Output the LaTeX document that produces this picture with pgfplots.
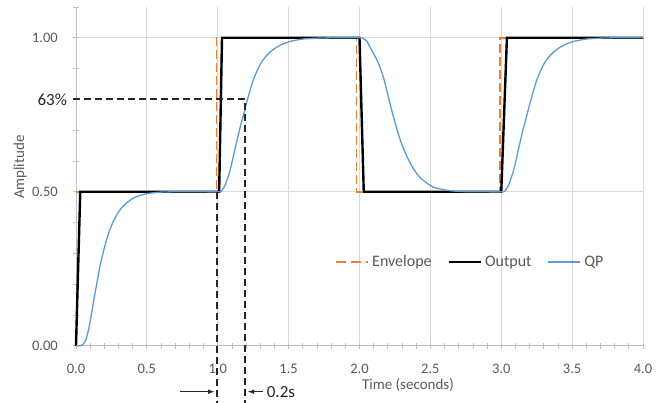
\documentclass[border=0pt]{standalone}
\usepackage{pgfplots}
\pgfplotsset{compat=1.18}
\usepackage{fontspec}
\setmainfont{Carlito}
\definecolor{envc}{HTML}{ED7D31}
\definecolor{qpc}{HTML}{5B9BD5}
\definecolor{gridc}{HTML}{D9D9D9}
\definecolor{axc}{HTML}{BFBFBF}
\definecolor{txt}{HTML}{595959}
\definecolor{ann}{HTML}{262626}
\begin{document}
\begin{tikzpicture}
\begin{axis}[
  name=ax,
  scale only axis, width=567pt, height=338.8pt,
  xmin=0, xmax=4, ymin=0, ymax=1.1,
  clip=false,
  axis x line*=bottom, axis y line*=left,
  axis line style={axc, line width=0.8pt},
  xtick={0,0.5,...,4}, minor x tick num=4,
  ytick={0,0.5,1}, minor ytick={0.1,0.2,0.3,0.4,0.6,0.7,0.8,0.9,1.1},
  tick align=center, major tick length=6pt, minor tick length=6pt,
  tick style={axc, line width=0.8pt},
  xmajorgrids, ymajorgrids, major grid style={gridc, line width=0.8pt},
  /pgf/number format/assume math mode=true,
  xticklabel style={font=\fontsize{14.5}{17}\selectfont, text=txt, anchor=north, inner sep=0pt, yshift=-15pt,
    /pgf/number format/fixed, /pgf/number format/fixed zerofill, /pgf/number format/precision=1},
  yticklabel style={font=\fontsize{14.5}{17}\selectfont, text=txt, anchor=east, inner sep=0pt, xshift=-15pt,
    /pgf/number format/fixed, /pgf/number format/fixed zerofill, /pgf/number format/precision=2},
  xlabel={Time (seconds)}, ylabel={Amplitude},
  every axis x label/.style={at={(axis cs:2.342,-0.127)}, anchor=center, inner sep=0pt, font=\fontsize{15}{18}\selectfont, text=txt},
  every axis y label/.style={at={(axis cs:-0.395,0.58)}, anchor=center, inner sep=0pt, rotate=90, font=\fontsize{15}{18}\selectfont, text=txt},
  legend columns=3,
  legend style={at={(axis cs:1.83,0.273)}, anchor=west, draw=none, fill=none, inner sep=0pt,
    font=\fontsize{16}{19}\selectfont,
    /tikz/every odd column/.append style={column sep=1pt},
    /tikz/every even column/.append style={column sep=14pt}},
  legend image code/.code={\draw[#1] (0pt,0pt) -- (32pt,0pt);},
]
\addlegendimage{color=envc, line width=1.6pt, dash pattern=on 10pt off 5pt}
\addlegendentry{\textcolor{txt}{Envelope}}
\addlegendimage{color=black, line width=2.4pt}
\addlegendentry{\textcolor{txt}{Output}}
\addlegendimage{color=qpc, line width=1.7pt}
\addlegendentry{\textcolor{txt}{QP}}
\addplot[forget plot, color=envc, line width=1.5pt, dash pattern=on 9pt off 4pt] coordinates {
  (0,0.5) (0.99,0.5) (0.99,1.0) (1.978,1.0) (1.978,0.5) (2.99,0.5) (2.99,1.0) (4,1.0)};
\addplot[forget plot, color=black, line width=2.4pt] coordinates {
  (0,0) (0.03,0.5) (1.01,0.5) (1.03,1.0) (2.0,1.0) (2.03,0.5) (3.0,0.5) (3.04,1.0) (4.0,1.0)};
\addplot[forget plot, color=qpc, line width=1.3pt, smooth, tension=0.4] coordinates {
  (0,0) (0.03,0) (0.05,0.005) (0.07,0.02) (0.09,0.055) (0.11,0.105) (0.13,0.16) (0.15,0.21)
  (0.17,0.26) (0.19,0.30) (0.21,0.335) (0.23,0.365) (0.25,0.39) (0.27,0.41) (0.30,0.435)
  (0.33,0.452) (0.36,0.465) (0.40,0.478) (0.45,0.488) (0.50,0.494) (0.55,0.497) (0.60,0.499)
  (0.70,0.5) (0.85,0.5) (1.01,0.5)
  (1.03,0.505) (1.05,0.52) (1.07,0.545) (1.09,0.575) (1.11,0.615) (1.13,0.655) (1.15,0.695)
  (1.17,0.73) (1.19,0.765) (1.21,0.80) (1.23,0.832) (1.25,0.862) (1.27,0.885) (1.29,0.905)
  (1.31,0.922) (1.34,0.94) (1.37,0.954) (1.41,0.968) (1.46,0.98) (1.51,0.988) (1.56,0.993)
  (1.61,0.9965) (1.71,0.999) (1.81,1.0) (1.9,1.0) (2.0,1.0)
  (2.02,0.999) (2.05,0.99) (2.08,0.965) (2.11,0.94) (2.14,0.91) (2.17,0.87) (2.20,0.815)
  (2.23,0.76) (2.26,0.71) (2.29,0.665) (2.32,0.63) (2.35,0.60) (2.39,0.568) (2.43,0.545)
  (2.47,0.53) (2.52,0.515) (2.58,0.508) (2.65,0.503) (2.75,0.5005) (2.85,0.5) (3.01,0.5)
  (3.03,0.505) (3.05,0.52) (3.07,0.545) (3.09,0.575) (3.11,0.615) (3.13,0.655) (3.15,0.695)
  (3.17,0.73) (3.19,0.765) (3.21,0.80) (3.23,0.832) (3.25,0.862) (3.27,0.885) (3.29,0.905)
  (3.31,0.922) (3.34,0.94) (3.37,0.954) (3.41,0.968) (3.46,0.98) (3.51,0.988) (3.56,0.993)
  (3.61,0.9965) (3.71,0.999) (3.81,1.0) (3.9,1.0) (4.0,1.0)};
\coordinate (h0) at (axis cs:-0.02,0.80);
\coordinate (h1) at (axis cs:1.195,0.80);
\coordinate (v1b) at (axis cs:1.195,-0.185);
\coordinate (v0t) at (axis cs:0.995,0.5);
\coordinate (v0b) at (axis cs:0.995,-0.185);
\coordinate (a1s) at (axis cs:0.734,-0.149);
\coordinate (a1e) at (axis cs:0.975,-0.149);
\coordinate (a2s) at (axis cs:1.32,-0.149);
\coordinate (a2e) at (axis cs:1.213,-0.149);
\coordinate (lab63) at (axis cs:-0.062,0.80);
\coordinate (lab02) at (axis cs:1.345,-0.149);
\end{axis}
\begin{scope}[ann, line width=1.8pt, dash pattern=on 7pt off 4pt]
  \draw (h0) -- (h1) -- (v1b);
  \draw (v0t) -- (v0b);
\end{scope}
\draw[ann, line width=1.1pt, -latex] (a1s) -- (a1e);
\draw[ann, line width=1.1pt, -latex] (a2s) -- (a2e);
\node[anchor=east, inner sep=0pt, text=ann, font=\fontsize{17}{20}\selectfont] at (lab63) {63\%};
\node[anchor=west, inner sep=0pt, text=ann, font=\fontsize{17}{20}\selectfont] at (lab02) {0.2s};
\pgfresetboundingbox
\path[use as bounding box] ([xshift=-76pt,yshift=-57pt]ax.south west) rectangle ([xshift=24pt,yshift=7pt]ax.north east);
\end{tikzpicture}
\end{document}
